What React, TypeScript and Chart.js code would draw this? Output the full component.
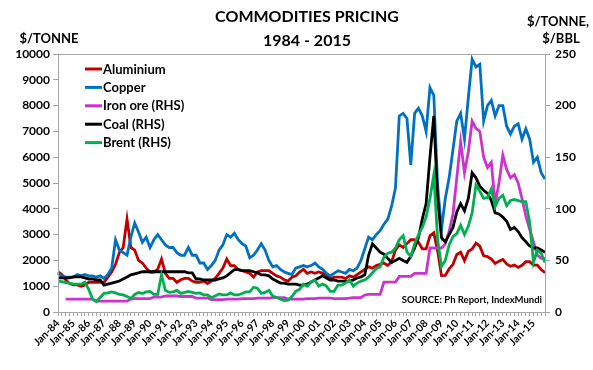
import { useEffect, useRef } from "react";
import { Chart, registerables } from "chart.js";

Chart.register(...registerables);

const TITLE_LINES = ["COMMODITIES PRICING", "1984 - 2015"];
const LEFT_UNIT = ["$/TONNE"];
const RIGHT_UNIT = ["$/TONNE,", "$/BBL"];
const SOURCE_NOTE = "SOURCE: Ph Report, IndexMundi";

const YEARS = ["84", "85", "86", "87", "88", "89", "90", "91", "92", "93", "94", "95", "96", "97", "98", "99",
  "00", "01", "02", "03", "04", "05", "06", "07", "08", "09", "10", "11", "12", "13", "14", "15"];
const QUARTER_MONTHS = ["Jan", "Apr", "Jul", "Oct"];
const CATEGORIES = YEARS.flatMap((y) => QUARTER_MONTHS.map((m) => `${m}-${y}`));

const LEFT_TICKS = { min: 0, max: 10000, step: 1000 };
const RIGHT_TICKS = { min: 0, max: 250, step: 50 };

// $/tonne (LHS)
const ALUMINIUM = [
  1550, 1450, 1250, 1100,
  1050, 1050, 1000, 1050,
  1150, 1150, 1150, 1150,
  1150, 1350, 1550, 1850,
  2300, 2500, 3600, 2500,
  2400, 2000, 1900, 1700,
  1550, 1550, 1650, 2050,
  1500, 1300, 1300, 1150,
  1250, 1300, 1300, 1200,
  1150, 1150, 1200, 1100,
  1200, 1300, 1500, 1700,
  2050, 1800, 1800, 1650,
  1600, 1550, 1500, 1350,
  1550, 1600, 1600, 1600,
  1500, 1400, 1350, 1250,
  1200, 1350, 1400, 1550,
  1650, 1500, 1550, 1500,
  1550, 1500, 1400, 1300,
  1350, 1350, 1350, 1300,
  1400, 1350, 1450, 1550,
  1650, 1750, 1700, 1800,
  1850, 1900, 1800, 1950,
  2400, 2600, 2500, 2650,
  2800, 2800, 2700, 2450,
  2450, 2950, 3070, 2370,
  1410, 1420, 1670, 1850,
  2230, 2320, 1990, 2350,
  2440, 2670, 2550, 2180,
  2150, 2050, 1880, 1970,
  2040, 1860, 1770, 1820,
  1730, 1810, 1950, 1950,
  1820, 1820, 1650, 1520,
];

const COPPER = [
  1500, 1400, 1350, 1350,
  1350, 1450, 1400, 1450,
  1400, 1400, 1350, 1400,
  1300, 1450, 1700, 2800,
  2400, 2300, 2200, 2900,
  3450, 3100, 2700, 2900,
  2500, 2800, 3000, 2800,
  2600, 2500, 2500, 2300,
  2200, 2200, 2500, 2200,
  2200, 1900, 1900, 1650,
  1800, 2000, 2400, 2600,
  3000, 2900, 3050, 2800,
  2650, 2550, 2100, 2200,
  2400, 2650, 2400, 2000,
  1750, 1800, 1650, 1550,
  1500, 1450, 1700, 1750,
  1800, 1750, 1800, 1900,
  1750, 1650, 1500, 1400,
  1500, 1600, 1550, 1500,
  1650, 1600, 1700, 2000,
  2450, 2900, 2800, 3000,
  3150, 3400, 3600, 4100,
  4800, 7600, 7700, 7500,
  5700, 7700, 7900, 7600,
  7000, 8700, 8400, 4900,
  3200, 4400, 5200, 6300,
  7400, 7700, 6700, 8300,
  9800, 9500, 9600, 7400,
  8000, 8200, 7600, 8000,
  8000, 7200, 6900, 7200,
  7300, 6700, 7100, 6700,
  5800, 6000, 5400, 5150,
];

// RHS ($/tonne, $/bbl)
const IRON_ORE = [
  null, null, 12.5, 12.5,
  12.5, 12.5, 12.5, 12.5,
  12.5, 12.5, 10.5, 10.5,
  10.5, 10.5, 10.5, 10.5,
  10.5, 10.5, 10.5, 12.5,
  13, 13, 13, 13,
  13, 14.5, 14.5, 14.5,
  15.5, 15.5, 15.5, 15.5,
  15, 15, 15, 15,
  13.5, 13.5, 13.5, 13.5,
  12, 12, 12, 12,
  12.5, 12.5, 12.5, 12.5,
  13, 13, 13, 13,
  13.5, 13.5, 13.5, 13.5,
  14, 14, 14, 14,
  12.5, 12.5, 12.5, 12.5,
  12.5, 13, 13, 13,
  13.5, 13.5, 13.5, 13.5,
  13, 13, 13, 13,
  13.5, 14, 14, 14,
  16.5, 17, 17, 17,
  17, 29, 29, 29,
  29, 34.5, 34.5, 34.5,
  34.5, 37.5, 37.5, 37.5,
  37.5, 62, 62, 62,
  62, 66, 78, 95,
  130, 165, 135, 155,
  185, 178, 175, 150,
  140, 145, 105, 125,
  152, 138, 130, 133,
  125, 110, 93, 80,
  68, 55, 52, 52,
];

const COAL = [
  33, 33, 33, 33,
  34, 34, 34, 33,
  32, 32, 31, 31,
  26, 27, 28, 29,
  30, 32, 34, 36,
  37, 38, 39, 39,
  39, 39, 39, 39,
  39, 39, 39, 39,
  39, 39, 38, 38,
  32, 32, 31, 31,
  31, 31, 32, 33,
  35, 38, 41, 41,
  40, 40, 40, 39,
  38, 36, 36, 35,
  32, 30, 28, 28,
  27, 27, 27, 26,
  26, 27, 29, 31,
  33, 35, 33, 31,
  31, 30, 30, 30,
  30, 31, 33, 34,
  36, 55, 66, 62,
  58, 56, 52, 48,
  50, 52, 50, 48,
  54, 62, 72, 90,
  105, 150, 190, 110,
  72, 68, 75, 82,
  97, 105, 98, 110,
  135, 130, 122, 118,
  115, 108, 96, 95,
  92, 88, 80, 82,
  78, 72, 68, 64,
  62, 62, 60, 58,
];

const BRENT = [
  30, 29.5, 28.5, 28,
  27, 27, 27, 29,
  22, 12.5, 10, 14,
  18, 18.5, 19.5, 18.5,
  17, 16.5, 15, 13,
  17, 19, 18, 19.5,
  20, 17, 17, 36,
  21, 19, 19.5, 21,
  18, 19, 20, 19,
  18, 18.5, 16.5, 16.5,
  14, 15.5, 17.5, 16.5,
  16.5, 18.5, 16.5, 16.5,
  18, 19.5, 19.5, 24,
  23, 18, 19, 21,
  15.5, 14, 12.5, 11,
  11.5, 15, 20, 22,
  27, 25, 29, 31,
  25, 27, 25, 20,
  20, 26, 26, 28,
  31, 25, 28, 30,
  31, 34, 38, 42,
  44, 53, 57, 58,
  62, 70, 74, 58,
  54, 66, 75, 82,
  92, 110, 133, 70,
  44, 50, 65, 73,
  76, 84, 75, 83,
  96, 123, 117, 110,
  111, 119, 102, 110,
  113, 103, 108, 109,
  108, 107, 107, 87,
  48, 60, 57, 48,
];

const SERIES = [
  { label: "Aluminium", data: ALUMINIUM, color: "#C00000", axis: "y" },
  { label: "Copper", data: COPPER, color: "#0070C0", axis: "y" },
  { label: "Iron ore (RHS)", data: IRON_ORE, color: "#CC33CC", axis: "y1" },
  { label: "Coal (RHS)", data: COAL, color: "#000000", axis: "y1" },
  { label: "Brent (RHS)", data: BRENT, color: "#00B050", axis: "y1" },
];

const FONT = "Lato, 'Open Sans', 'DejaVu Sans', sans-serif";
const AXIS_GREY = "#A6A6A6";

const decorPlugin = {
  id: "decor",
  afterDraw(chart: any) {
    const { ctx, chartArea } = chart;
    ctx.save();
    ctx.strokeStyle = AXIS_GREY;
    ctx.lineWidth = 1;
    ctx.strokeRect(chartArea.left + 0.5, chartArea.top + 0.5, chartArea.right - chartArea.left, chartArea.bottom - chartArea.top);

    ctx.fillStyle = "#000";
    ctx.textBaseline = "middle";
    ctx.font = `bold 16px ${FONT}`;
    ctx.textAlign = "center";
    ctx.fillText(TITLE_LINES[0], 307, 17);
    ctx.fillText(TITLE_LINES[1], 307, 41);
    ctx.font = `bold 13px ${FONT}`;
    ctx.fillText(LEFT_UNIT[0], 49, 39);
    ctx.fillText(RIGHT_UNIT[0], 558, 22);
    ctx.fillText(RIGHT_UNIT[1], 561, 39);

    const ds = chart.data.datasets;
    ctx.font = `bold 13px ${FONT}`;
    ctx.textAlign = "left";
    ds.forEach((d: any, i: number) => {
      const y = 69 + i * 18.4;
      ctx.strokeStyle = d.borderColor;
      ctx.lineWidth = 3;
      ctx.beginPath();
      ctx.moveTo(85, y);
      ctx.lineTo(102, y);
      ctx.stroke();
      ctx.fillText(d.label, 103, y + 0.5);
    });

    ctx.font = `bold 9.5px ${FONT}`;
    ctx.textAlign = "right";
    ctx.fillText(SOURCE_NOTE, 542, 300);
    ctx.restore();
  },
};

export default function App() {
  const ref = useRef<HTMLCanvasElement | null>(null);

  useEffect(() => {
    if (!ref.current) return;
    const tickFont = { family: FONT, size: 12, weight: "bold" as const };
    const chart = new Chart(ref.current, {
      type: "line",
      data: {
        labels: CATEGORIES,
        datasets: SERIES.map((s, i) => ({
          label: s.label,
          data: s.data,
          yAxisID: s.axis,
          borderColor: s.color,
          backgroundColor: s.color,
          borderWidth: 2.8,
          pointRadius: 0,
          tension: 0,
          fill: false,
          spanGaps: false,
          order: SERIES.length - i,
        })),
      },
      options: {
        responsive: false,
        animation: false,
        layout: { padding: { top: 54, left: 0, right: 0, bottom: 0 } },
        plugins: {
          legend: { display: false },
          title: { display: false },
          tooltip: { enabled: false },
        },
        scales: {
          x: {
            type: "category",
            offset: false,
            grid: { drawOnChartArea: false, drawTicks: true, tickLength: 4, color: AXIS_GREY },
            border: { color: AXIS_GREY },
            ticks: {
              autoSkip: false,
              minRotation: 45,
              maxRotation: 45,
              padding: 1,
              color: "#000",
              font: { family: FONT, size: 10.5, weight: "bold" },
              callback: (_v: any, i: number) => (CATEGORIES[i].startsWith("Jan") ? CATEGORIES[i] : ""),
            },
            afterFit: (s: any) => {
              s.height = 58;
            },
          },
          y: {
            position: "left",
            min: LEFT_TICKS.min,
            max: LEFT_TICKS.max,
            grid: { drawOnChartArea: false, tickLength: 5, color: AXIS_GREY },
            border: { color: AXIS_GREY },
            ticks: { stepSize: LEFT_TICKS.step, padding: 3, color: "#000", font: tickFont, callback: (v: any) => String(v) },
            afterFit: (s: any) => {
              s.width = 58;
            },
          },
          y1: {
            position: "right",
            min: RIGHT_TICKS.min,
            max: RIGHT_TICKS.max,
            grid: { drawOnChartArea: false, tickLength: 5, color: AXIS_GREY },
            border: { color: AXIS_GREY },
            ticks: { stepSize: RIGHT_TICKS.step, padding: 5, color: "#000", font: tickFont, callback: (v: any) => String(v) },
            afterFit: (s: any) => {
              s.width = 48;
            },
          },
        },
      },
      plugins: [decorPlugin],
    });
    return () => chart.destroy();
  }, []);

  return (
    <div style={{ position: "absolute", left: 0, top: 0, width: 593, height: 370, background: "#fff" }}>
      <canvas ref={ref} width={593} height={370} />
    </div>
  );
}
